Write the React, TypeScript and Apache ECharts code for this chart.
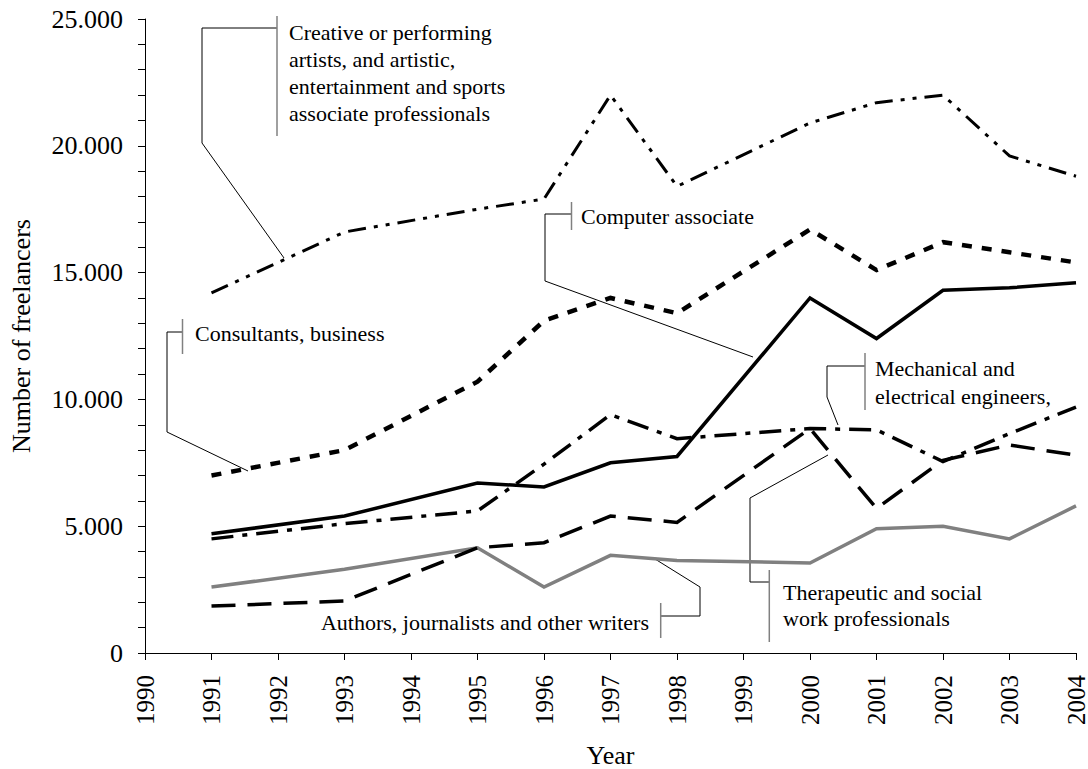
import React, { useEffect, useRef } from "react";
import * as echarts from "echarts";

const years = [1991, 1992, 1993, 1994, 1995, 1996, 1997, 1998, 1999, 2000, 2001, 2002, 2003, 2004];
const creative = [14200, null, 16600, null, 17500, 17900, 22000, 18400, null, 20900, 21700, 22000, 19600, 18800];
const consultants = [7000, null, 8000, null, 10700, 13100, 14000, 13400, null, 16700, 15100, 16200, 15800, 15400];
const computer = [4700, null, 5400, null, 6700, 6550, 7500, 7750, null, 14000, 12400, 14300, 14400, 14600];
const mechanical = [4500, null, 5100, null, 5600, 7450, 9400, 8450, null, 8850, 8800, 7550, 8650, 9700];
const therapeutic = [1850, null, 2050, null, 4150, 4350, 5400, 5150, null, 8850, 5700, 7600, 8200, 7800];
const authors = [2600, null, 3300, null, 4150, 2600, 3850, 3650, null, 3550, 4900, 5000, 4500, 5800];

const FONT = '"Liberation Serif", "Times New Roman", serif';

const pairs = (vals: (number | null)[]) => years.map((y, i) => [y, vals[i]]);

const leader = (pts: number[][]) => ({
  type: "polyline",
  shape: { points: pts },
  style: { stroke: "#000", lineWidth: 1, fill: null },
  silent: true,
});
const bar = (x: number, y1: number, y2: number) => ({
  type: "line",
  shape: { x1: x, y1, x2: x, y2 },
  style: { stroke: "#808080", lineWidth: 1.5 },
  silent: true,
});
const label = (text: string, x: number, y: number, align = "left") => ({
  type: "text",
  x,
  y,
  style: { text, font: `22px ${FONT}`, fill: "#000", align, verticalAlign: "middle" },
  silent: true,
});

export default function App() {
  const ref = useRef<HTMLDivElement>(null);
  useEffect(() => {
    if (!ref.current) return;
    const chart = echarts.init(ref.current, null, { renderer: "svg" });
    const mkSeries = (name: string, vals: (number | null)[], color: string, width: number, type: any) => ({
      name,
      type: "line",
      data: pairs(vals),
      connectNulls: true,
      showSymbol: false,
      symbol: "none",
      lineStyle: { color, width, type, cap: "butt", join: "miter" },
    });
    chart.setOption({
      animation: false,
      backgroundColor: "#fff",
      grid: { left: 145, right: 12, top: 19, bottom: 116, containLabel: false, outerBoundsMode: "none" },
      xAxis: {
        type: "value",
        min: 1990,
        max: 2004,
        interval: 1,
        name: "Year",
        nameLocation: "middle",
        nameGap: 89,
        nameTextStyle: { fontFamily: FONT, fontSize: 26, color: "#000" },
        axisLine: { show: true, lineStyle: { color: "#000", width: 1 } },
        axisTick: { show: true, inside: false, length: 7, lineStyle: { color: "#000" } },
        axisLabel: {
          rotate: 90,
          margin: 22,
          fontFamily: FONT,
          fontSize: 25,
          color: "#000",
          formatter: (v: number) => String(v),
        },
        splitLine: { show: false },
      },
      yAxis: {
        type: "value",
        min: 0,
        max: 25000,
        interval: 5000,
        name: "Number of freelancers",
        nameLocation: "middle",
        nameGap: 111,
        nameTextStyle: { fontFamily: FONT, fontSize: 26, color: "#000" },
        axisLine: { show: true, lineStyle: { color: "#000", width: 1 } },
        axisTick: { show: true, inside: false, length: 7, lineStyle: { color: "#000" } },
        minorTick: { show: true, splitNumber: 5, length: 7, lineStyle: { color: "#000" } },
        axisLabel: {
          margin: 22,
          fontFamily: FONT,
          fontSize: 26,
          color: "#000",
          formatter: (v: number) => String(v).replace(/\B(?=(\d{3})+(?!\d))/g, "."),
        },
        splitLine: { show: false },
      },
      series: [
        mkSeries("Authors, journalists and other writers", authors, "#808080", 3.5, "solid"),
        mkSeries("Therapeutic and social work professionals", therapeutic, "#000", 3.5, [24, 12]),
        mkSeries("Mechanical and electrical engineers", mechanical, "#000", 3.5, [22, 9, 5, 9]),
        mkSeries("Computer associate", computer, "#000", 3.5, "solid"),
        mkSeries("Consultants, business professionals", consultants, "#000", 4.5, [10, 10]),
        mkSeries("Creative or performing artists", creative, "#000", 3, [18, 8, 4, 8, 4, 8]),
      ],
      graphic: [
        leader([[277, 28], [202, 28], [202, 143], [284, 258]]),
        bar(277, 16, 136),
        label("Creative or performing", 289, 32),
        label("artists, and artistic,", 289, 59),
        label("entertainment and sports", 289, 86),
        label("associate professionals", 289, 113),

        leader([[571, 214], [545, 214], [545, 281], [753, 357]]),
        bar(571.5, 202, 230),
        label("Computer associate", 581, 216),

        leader([[182, 332], [167, 332], [167, 432], [248, 471]]),
        bar(182.5, 319, 354),
        label("Consultants, business", 195, 333),

        leader([[865, 366], [827, 366], [827, 397], [838, 425]]),
        bar(865, 353, 410),
        label("Mechanical and", 875, 368),
        label("electrical engineers,", 875, 396),

        leader([[769, 582], [750, 582], [750, 498], [828, 455]]),
        bar(769.3, 570, 642),
        label("Therapeutic and social", 783, 592),
        label("work professionals", 783, 618),

        leader([[661, 616], [700, 616], [700, 587], [655, 559]]),
        bar(660.7, 603, 638),
        label("Authors, journalists and other writers", 649, 622, "right"),
      ],
    });
    return () => chart.dispose();
  }, []);
  return (
    <div
      ref={ref}
      style={{ position: "absolute", left: 0, top: 0, width: 1088, height: 769, background: "#fff" }}
    />
  );
}
